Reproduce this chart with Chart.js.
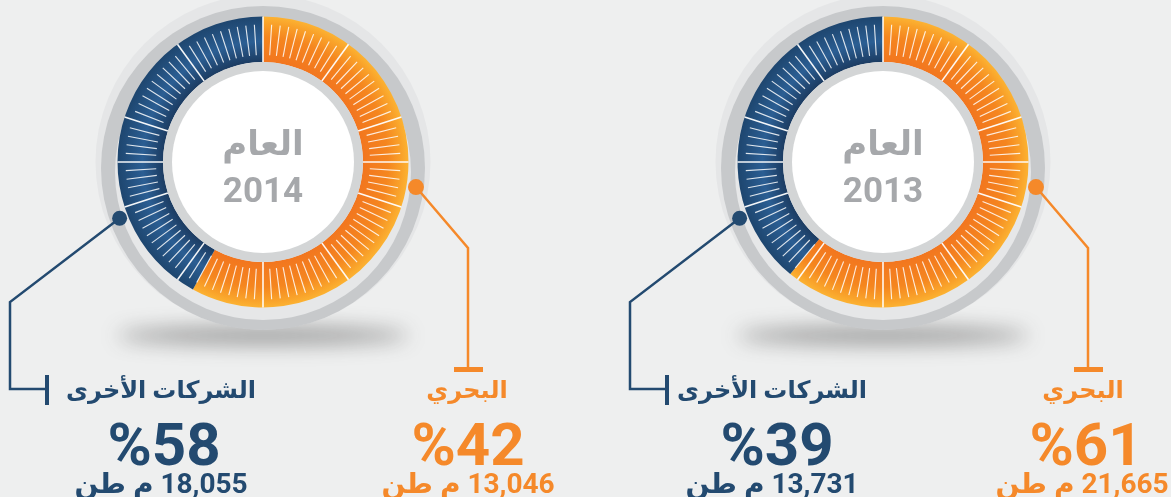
<!DOCTYPE html>
<html><head><meta charset="utf-8">
<script src="https://cdn.jsdelivr.net/npm/chart.js@4.4.0/dist/chart.umd.min.js"></script>
<style>
html,body{margin:0;padding:0;background:#eeefef;width:1171px;height:497px;overflow:hidden;}
#wrap{position:relative;width:1171px;height:497px;}
canvas{position:absolute;top:0;}
.t{position:absolute;width:300px;text-align:center;white-space:nowrap;font-weight:700;font-family:Roboto,"DejaVu Sans",sans-serif;margin:0;}
.blue{color:#234a70;}
.orange{color:#f5892a;}
.gray{color:#a6a8ab;}
</style></head>
<body>
<div id="wrap">
  <canvas id="c2014" width="585" height="497" style="left:0"></canvas>
  <canvas id="c2013" width="586" height="497" style="left:585px"></canvas>
</div>
<script>
// ---- data ----
const years = ['2014', '2013'];
const yearWord = 'العام';
const categories = ['البحري', 'الشركات الأخرى'];
// ring arc shares as drawn in the picture (orange, blue)
const ringArc2014 = [58, 42];
const ringArc2013 = [61, 39];
// printed percentages (orange, blue)
const pct2014 = [42, 58];
const pct2013 = [61, 39];
// printed tonnages (orange, blue)
const tons2014 = ['13,046', '18,055'];
const tons2013 = ['21,665', '13,731'];
const unit = 'م طن';

const CUT = 100 / 145.5;
const ORANGE = '#f5892a', BLUE = '#234a70';

function geom(chart){
  const a = chart.chartArea;
  const cx = (a.left + a.right) / 2, cy = (a.top + a.bottom) / 2;
  const R = Math.min(a.width, a.height) / 2;
  return {cx, cy, R, r: R * CUT};
}

function arcFill(context){
  const chart = context.chart;
  if (!chart.chartArea) return ORANGE;
  const {cx, cy, R, r} = geom(chart);
  const g = chart.ctx.createRadialGradient(cx, cy, r, cx, cy, R);
  if (context.dataIndex === 0) {
    g.addColorStop(0, '#f2761f'); g.addColorStop(0.55, '#f5861f'); g.addColorStop(0.85, '#f9a22a'); g.addColorStop(1, '#fcb232');
  } else {
    g.addColorStop(0, '#1c3c62'); g.addColorStop(0.45, '#2b5e93'); g.addColorStop(1, '#1e466f');
  }
  return g;
}

const decor = {
  id: 'decor',
  beforeDatasetsDraw(chart){
    const ctx = chart.ctx; const {cx, cy, R} = geom(chart);
    ctx.save();
    // soft shadow under the ring
    ctx.filter = 'blur(10px)';
    ctx.fillStyle = 'rgba(40,40,40,0.42)';
    ctx.beginPath(); ctx.ellipse(cx, cy + R + 28, R * 1.0, 9, 0, 0, Math.PI * 2); ctx.fill();
    ctx.filter = 'none';
    // halo
    ctx.fillStyle = '#e5e6e7';
    ctx.beginPath(); ctx.arc(cx, cy, R + 22, 0, Math.PI * 2); ctx.fill();
    // dark bevel
    ctx.fillStyle = '#c7c9cb';
    ctx.beginPath(); ctx.arc(cx, cy + 6, R + 16.5, 0, Math.PI * 2); ctx.fill();
    // light bevel
    ctx.fillStyle = '#e6e7e8';
    ctx.beginPath(); ctx.arc(cx, cy + 10, R + 2.5, 0, Math.PI * 2); ctx.fill();
    ctx.restore();
  },
  afterDatasetsDraw(chart){
    const ctx = chart.ctx; const {cx, cy, R, r} = geom(chart);
    ctx.save();
    // tick marks
    for (let i = 0; i < 100; i++) {
      const ang = -Math.PI / 2 + i * Math.PI * 2 / 100;
      const long = (i % 10 === 0) || i === 25 || i === 75;
      const r0 = long ? r : r + 7, r1 = long ? R : R - 8;
      ctx.strokeStyle = long ? 'rgba(255,255,255,0.95)' : 'rgba(255,255,255,0.85)';
      ctx.lineWidth = long ? 1.6 : 1.1;
      ctx.beginPath();
      ctx.moveTo(cx + r0 * Math.cos(ang), cy + r0 * Math.sin(ang));
      ctx.lineTo(cx + r1 * Math.cos(ang), cy + r1 * Math.sin(ang));
      ctx.stroke();
    }
    // inner gray ring and white centre
    ctx.fillStyle = '#d3d5d6';
    ctx.beginPath(); ctx.arc(cx, cy, r, 0, Math.PI * 2); ctx.fill();
    ctx.fillStyle = '#ffffff';
    ctx.beginPath(); ctx.arc(cx, cy, r - 9, 0, Math.PI * 2); ctx.fill();

    // leader: orange (right side)
    const oa = 9.3 * Math.PI / 180, od = R + 9.5;
    const ox = cx + od * Math.cos(oa), oy = cy + od * Math.sin(oa);
    ctx.strokeStyle = ORANGE; ctx.fillStyle = ORANGE; ctx.lineWidth = 2.5; ctx.lineJoin = 'miter';
    ctx.beginPath(); ctx.moveTo(ox, oy); ctx.lineTo(cx + 205, cy + 86); ctx.lineTo(cx + 205, cy + 206); ctx.stroke();
    ctx.fillRect(cx + 191, cy + 205, 29, 5);
    ctx.beginPath(); ctx.arc(ox, oy, 8, 0, Math.PI * 2); ctx.fill();

    // leader: blue (left side)
    const ba = (180 - 21.4) * Math.PI / 180, bd = R + 8.5;
    const bx = cx + bd * Math.cos(ba), by = cy + bd * Math.sin(ba);
    ctx.strokeStyle = BLUE; ctx.fillStyle = BLUE;
    ctx.beginPath(); ctx.moveTo(bx, by); ctx.lineTo(cx - 253, cy + 140); ctx.lineTo(cx - 253, cy + 227); ctx.lineTo(cx - 216, cy + 227); ctx.stroke();
    ctx.fillRect(cx - 218, cy + 213, 4, 30);
    ctx.beginPath(); ctx.arc(bx, by, 7.5, 0, Math.PI * 2); ctx.fill();
    ctx.restore();
  }
};

function makeChart(id, arcs, pad){
  return new Chart(document.getElementById(id), {
    type: 'doughnut',
    data: { labels: categories, datasets: [{ data: arcs, backgroundColor: arcFill, borderWidth: 0, hoverOffset: 0 }] },
    options: {
      responsive: false, animation: false, events: [],
      cutout: (CUT * 100) + '%', rotation: 0,
      layout: { padding: pad },
      plugins: { legend: { display: false }, tooltip: { enabled: false } }
    },
    plugins: [decor]
  });
}
makeChart('c2014', ringArc2014, {left: 117.5, top: 16.5, right: 176.5, bottom: 189.5});
makeChart('c2013', ringArc2013, {left: 152.5, top: 16.5, right: 142.5, bottom: 189.5});

// ---- text (real HTML text) ----
const wrap = document.getElementById('wrap');
function txt(s, cx, top, size, cls, dir){
  const d = document.createElement('div');
  d.className = 't ' + cls;
  d.textContent = s;
  d.dir = dir || 'rtl';
  d.style.left = (cx - 150) + 'px';
  d.style.top = top + 'px';
  d.style.fontSize = size + 'px';
  d.style.lineHeight = size + 'px';
  wrap.appendChild(d);
}
const sets = [
  {year: years[0], pct: pct2014, tons: tons2014, c: 263, b: [161, 164, 161], o: [467, 468, 468]},
  {year: years[1], pct: pct2013, tons: tons2013, c: 883, b: [772, 777, 772], o: [1083, 1086, 1082]}
];
sets.forEach(s => {
  txt(yearWord, s.c, 126, 34, 'gray');
  txt(s.year, s.c, 172.5, 35, 'gray', 'ltr');
  txt(categories[1], s.b[0], 378, 24, 'blue');
  txt('%' + s.pct[1], s.b[1], 414.5, 60, 'blue', 'ltr');
  txt(s.tons[1] + ' ' + unit, s.b[2], 470, 28, 'blue');
  txt(categories[0], s.o[0], 378, 24, 'orange');
  txt('%' + s.pct[0], s.o[1], 414.5, 60, 'orange', 'ltr');
  txt(s.tons[0] + ' ' + unit, s.o[2], 470, 28, 'orange');
});
</script>
</body></html>
